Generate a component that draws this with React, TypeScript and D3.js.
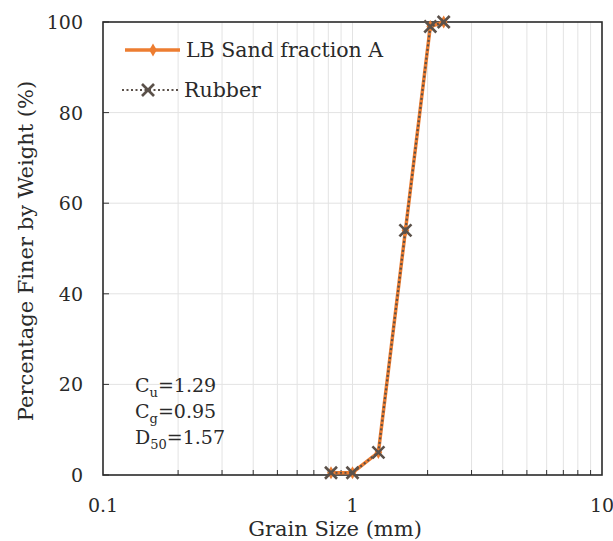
import React from "react";
import * as d3 from "d3";

const grainSize = [0.82, 1.0, 1.27, 1.63, 2.05, 2.32];
const sandFiner = [0.5, 0.5, 5, 54, 99, 100];
const rubberFiner = [0.5, 0.5, 5, 54, 99, 100];
const yTicks = [0, 20, 40, 60, 80, 100];
const xTicks = [0.1, 1, 10];
const legendLabels = ["LB Sand fraction A", "Rubber"];

const W = 613, H = 541;
const L = 103, R = 602, T = 22, B = 475;

export default function App() {
  const x = d3.scaleLog().domain([0.1, 10]).range([L, R]);
  const y = d3.scaleLinear().domain([0, 100]).range([B, T]);
  const minor: number[] = [];
  for (const dec of [0.1, 1]) for (let k = 2; k <= 9; k++) minor.push(dec * k);
  const line = d3.line<number>().x((_, i) => x(grainSize[i])).y((d) => y(d));
  const font = "'DejaVu Serif', serif";
  const orange = "#ED7D31";
  const dark = "#5b514a";
  const txt = "#2a2a2a";
  const cross = (cx: number, cy: number, s = 6, k?: string) => (
    <g key={k} stroke={dark} strokeWidth={2.6}>
      <line x1={cx - s} y1={cy - s} x2={cx + s} y2={cy + s} />
      <line x1={cx - s} y1={cy + s} x2={cx + s} y2={cy - s} />
    </g>
  );
  return (
    <svg width={W} height={H} style={{ position: "absolute", left: 0, top: 0, background: "#fff", fontFamily: font }}>
      <rect x={0} y={0} width={W} height={H} fill="#fff" />
      {/* grid */}
      {[...minor, 1].map((v, i) => (
        <line key={"gv" + i} x1={x(v)} x2={x(v)} y1={T} y2={B} stroke="#e3e3e3" strokeWidth={1} />
      ))}
      {yTicks.filter((v) => v > 0 && v < 100).map((v) => (
        <line key={"gh" + v} x1={L} x2={R} y1={y(v)} y2={y(v)} stroke="#e3e3e3" strokeWidth={1} />
      ))}
      {/* ticks */}
      {minor.map((v, i) => (
        <line key={"tx" + i} x1={x(v)} x2={x(v)} y1={B} y2={B - 5} stroke="#333" strokeWidth={1} />
      ))}
      {yTicks.map((v) => (
        <line key={"ty" + v} x1={L} x2={L + 6} y1={y(v)} y2={y(v)} stroke="#333" strokeWidth={1} />
      ))}
      {/* frame */}
      <rect x={L} y={T} width={R - L} height={B - T} fill="none" stroke="#2a2a2a" strokeWidth={1.6} />
      {/* tick labels */}
      {yTicks.map((v) => (
        <text key={"yl" + v} x={83} y={y(v) + 7} textAnchor="end" fontSize={19} fill={txt}>{v}</text>
      ))}
      {xTicks.map((v) => (
        <text key={"xl" + v} x={x(v)} y={512} textAnchor="middle" fontSize={19} fill={txt}>{v}</text>
      ))}
      <text x={335} y={536} textAnchor="middle" fontSize={21} fill={txt}>Grain Size (mm)</text>
      <text transform={`translate(33,251) rotate(-90)`} textAnchor="middle" fontSize={21} fill={txt}>Percentage Finer by Weight (%)</text>
      {/* annotations */}
      <text x={135} y={392} fontSize={19} fill={txt}>C<tspan fontSize={13} dy={5}>u</tspan><tspan dy={-5}>=1.29</tspan></text>
      <text x={135} y={418} fontSize={19} fill={txt}>C<tspan fontSize={13} dy={5}>g</tspan><tspan dy={-5}>=0.95</tspan></text>
      <text x={135} y={444} fontSize={19} fill={txt}>D<tspan fontSize={13} dy={5}>50</tspan><tspan dy={-5}>=1.57</tspan></text>
      {/* series */}
      <path d={line(sandFiner) ?? ""} fill="none" stroke={orange} strokeWidth={3.5} />
      {sandFiner.map((v, i) => (
        <path key={"d" + i} d={d3.symbol(d3.symbolDiamond, 50)() ?? ""} transform={`translate(${x(grainSize[i])},${y(v)})`} fill={orange} />
      ))}
      <path d={line(rubberFiner) ?? ""} fill="none" stroke={dark} strokeWidth={2.2} strokeDasharray="2,2.5" />
      {rubberFiner.map((v, i) => cross(x(grainSize[i]), y(v), 6, "c" + i))}
      {/* legend */}
      <line x1={125} x2={180} y1={50} y2={50} stroke={orange} strokeWidth={3.5} />
      <path d={d3.symbol(d3.symbolDiamond, 50)() ?? ""} transform="translate(153,50)" fill={orange} />
      <text x={186} y={57} fontSize={20.5} fill={txt}>{legendLabels[0]}</text>
      <line x1={122} x2={178} y1={90} y2={90} stroke={dark} strokeWidth={2.2} strokeDasharray="2,2.5" />
      {cross(148, 90, 6, "lc")}
      <text x={184} y={97} fontSize={20.5} fill={txt}>{legendLabels[1]}</text>
    </svg>
  );
}
